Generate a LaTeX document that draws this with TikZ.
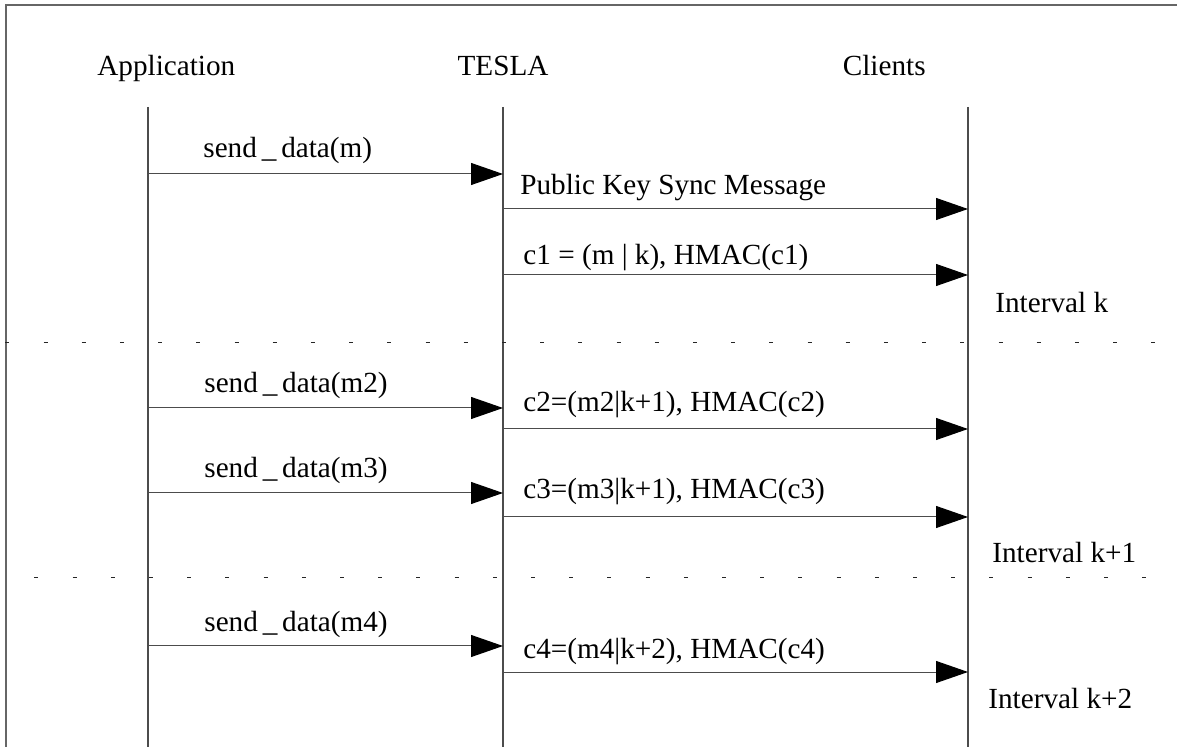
\documentclass[tikz,border=0pt]{standalone}
\usepackage{fontspec}
\setmainfont{Liberation Serif}
\usetikzlibrary{arrows.meta}

\tikzstyle{heading}=[inner sep=0pt,
                        font=\fontsize{14.6}{17}\selectfont]
\tikzstyle{msgtext}=[anchor=base west,
                        inner sep=0pt,
                        font=\fontsize{14.6}{17}\selectfont]
\tikzstyle{lifeline}=[draw=black!70,
                        line width=0.6pt]
\tikzstyle{msg}=[draw=black!70,
                        line width=0.5pt]
\tikzstyle{interval}=[draw=black!85,
                        line width=0.5pt,
                        dash pattern=on 2pt off 17.1pt]

\begin{document}
\begin{tikzpicture}[x=0.5pt,y=-0.5pt,>={Triangle[length=16pt,width=11pt,color=black]}]
  \useasboundingbox (0,0) rectangle (1177,747);
  % The outer frame (only its top and left sides are in view):
  \draw[draw=black!60, line width=0.7pt] (6,747) -- (6,5) -- (1177,5);

  % The three actors and their lifelines:
  \node (app) [heading, anchor=base west] at (97,76) {Application};
  \node (tesla) [heading, anchor=base] at (503,76) {TESLA};
  \node (clients) [heading, anchor=base east] at (926,76) {Clients};
  \coordinate (appTop) at (148,107);   \coordinate (appBot) at (148,747);
  \coordinate (teslaTop) at (503,107); \coordinate (teslaBot) at (503,747);
  \coordinate (cliTop) at (968,107);   \coordinate (cliBot) at (968,747);
  \path[lifeline]
        (appTop) edge (appBot)
        (teslaTop) edge (teslaBot)
        (cliTop) edge (cliBot);

  % Message end points on the lifelines:
  \coordinate (a1) at (148,174); \coordinate (t1) at (503,174);
  \coordinate (t2) at (503,209); \coordinate (c2) at (968,209);
  \coordinate (t3) at (503,275); \coordinate (c3) at (968,275);
  \coordinate (a4) at (148,408); \coordinate (t4) at (503,408);
  \coordinate (t5) at (503,429); \coordinate (c5) at (968,429);
  \coordinate (a6) at (148,493); \coordinate (t6) at (503,493);
  \coordinate (t7) at (503,517); \coordinate (c7) at (968,517);
  \coordinate (a8) at (148,646); \coordinate (t8) at (503,646);
  \coordinate (t9) at (503,672); \coordinate (c9) at (968,672);

  % The messages are now connected through arrows:
  \path[->]
        (a1) edge[msg] (t1)
        (t2) edge[msg] (c2)
        (t3) edge[msg] (c3)
        (a4) edge[msg] (t4)
        (t5) edge[msg] (c5)
        (a6) edge[msg] (t6)
        (t7) edge[msg] (c7)
        (a8) edge[msg] (t8)
        (t9) edge[msg] (c9)
;

  % Message texts:
  \node (m1) [msgtext] at (203,158) {send\,\_\,data(m)};
  \node (m2) [msgtext] at (520,195) {Public Key Sync Message};
  \node (m3) [msgtext] at (523,265) {c1 = (m | k), HMAC(c1)};
  \node (m4) [msgtext] at (204,393) {send\,\_\,data(m2)};
  \node (m5) [msgtext] at (523,412) {c2=(m2|k+1), HMAC(c2)};
  \node (m6) [msgtext] at (204,478) {send\,\_\,data(m3)};
  \node (m7) [msgtext] at (523,499) {c3=(m3|k+1), HMAC(c3)};
  \node (m8) [msgtext] at (204,632) {send\,\_\,data(m4)};
  \node (m9) [msgtext] at (523,659) {c4=(m4|k+2), HMAC(c4)};

  % Interval boundaries and their names:
  \node (ivk) [msgtext] at (995,313) {Interval k};
  \node (ivk1) [msgtext] at (992,563) {Interval k+1};
  \node (ivk2) [msgtext] at (988,708) {Interval k+2};
  \coordinate (sepL1) at (5.3,343); \coordinate (sepR1) at (1160,343);
  \coordinate (sepL2) at (34.4,578); \coordinate (sepR2) at (1150,578);
  \path[-]
        (sepL1) edge[interval] (sepR1)
        (sepL2) edge[interval] (sepR2)
;
\end{tikzpicture}
\end{document}
